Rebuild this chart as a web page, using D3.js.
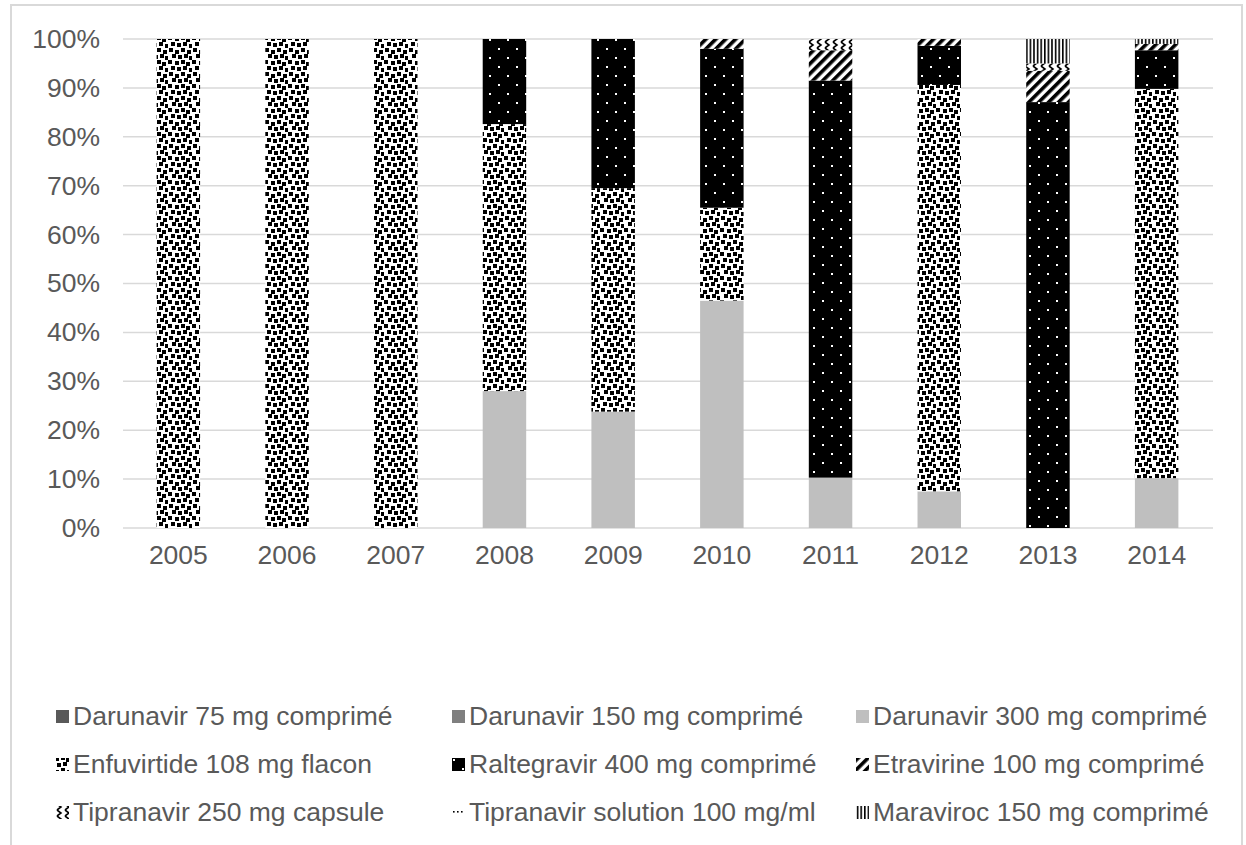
<!DOCTYPE html>
<html>
<head>
<meta charset="utf-8">
<script src="https://cdn.jsdelivr.net/npm/d3@7"></script>
<style>
  html, body { margin: 0; padding: 0; background: #ffffff; }
  svg { display: block; font-family: "Liberation Sans", Arial, sans-serif; }
</style>
</head>
<body>
<svg id="chart" width="1246" height="845"></svg>
<script>
// ---- data ----
const years = ["2005","2006","2007","2008","2009","2010","2011","2012","2013","2014"];
const seriesNames = [
  "Darunavir 75 mg comprimé",
  "Darunavir 150 mg comprimé",
  "Darunavir 300 mg comprimé",
  "Enfuvirtide 108 mg flacon",
  "Raltegravir 400 mg comprimé",
  "Etravirine 100 mg comprimé",
  "Tipranavir 250 mg capsule",
  "Tipranavir solution 100 mg/ml",
  "Maraviroc 150 mg comprimé"
];
const darunavir75  = [0, 0, 0, 0, 0, 0, 0, 0, 0, 0];
const darunavir150 = [0, 0, 0, 0, 0, 0, 0, 0, 0, 0];
const darunavir300 = [0, 0, 0, 28, 23.8, 46.5, 10.3, 7.5, 0, 10.2];
const enfuvirtide  = [100, 100, 100, 54.6, 45.7, 19, 0, 83.1, 0, 79.6];
const raltegravir  = [0, 0, 0, 17.4, 30.5, 32.5, 81.2, 8, 87.1, 7.9];
const etravirine   = [0, 0, 0, 0, 0, 2, 6.2, 1.4, 6.4, 1.3];
const tipranavir250 = [0, 0, 0, 0, 0, 0, 2.3, 0, 1.5, 0];
const tipranavirSol = [0, 0, 0, 0, 0, 0, 0, 0, 0, 0];
const maraviroc    = [0, 0, 0, 0, 0, 0, 0, 0, 5, 1];
const yTicks = [0, 10, 20, 30, 40, 50, 60, 70, 80, 90, 100];

const seriesValues = [darunavir75, darunavir150, darunavir300, enfuvirtide, raltegravir,
                      etravirine, tipranavir250, tipranavirSol, maraviroc];

// table for d3.stack
const table = years.map((y, i) => {
  const row = { year: y };
  seriesNames.forEach((s, k) => { row[s] = seriesValues[k][i]; });
  return row;
});

// ---- layout ----
const svg = d3.select("#chart");
const plot = { left: 123, right: 1213, top: 39, bottom: 528 };
const FONT = "26.5px";

// frame
svg.append("rect").attr("x", 11).attr("y", 5).attr("width", 1231).attr("height", 900)
  .attr("fill", "#ffffff").attr("stroke", "#d9d9d9").attr("stroke-width", 2);

// ---- patterns ----
const defs = svg.append("defs");

// Enfuvirtide: large confetti
const pConf = defs.append("pattern").attr("id", "p-enfu").attr("patternUnits", "userSpaceOnUse")
  .attr("width", 24).attr("height", 24);
pConf.append("rect").attr("width", 24).attr("height", 24).attr("fill", "#fff");
[[1,0],[7,2],[13,0],[19,2],[4,6],[10,7],[16,6],[21,8],[0,12],[7,13],[13,12],[18,14],
 [3,18],[9,19],[15,18],[21,20]].forEach(([x,y]) =>
  pConf.append("rect").attr("x", x).attr("y", y).attr("width", 4).attr("height", 4).attr("fill", "#000"));

// Raltegravir: black with white dots
const pRal = defs.append("pattern").attr("id", "p-ral").attr("patternUnits", "userSpaceOnUse")
  .attr("width", 18).attr("height", 18);
pRal.append("rect").attr("width", 18).attr("height", 18).attr("fill", "#000");
[[3,3],[12,12]].forEach(([x,y]) =>
  pRal.append("rect").attr("x", x).attr("y", y).attr("width", 2).attr("height", 2).attr("fill", "#fff"));

// Etravirine: wide upward diagonal
const pEtr = defs.append("pattern").attr("id", "p-etr").attr("patternUnits", "userSpaceOnUse")
  .attr("width", 7).attr("height", 7).attr("patternTransform", "rotate(45)");
pEtr.append("rect").attr("width", 7).attr("height", 7).attr("fill", "#fff");
pEtr.append("rect").attr("width", 3.6).attr("height", 7).attr("fill", "#000");

// Tipranavir 250: chevrons
const pTip = defs.append("pattern").attr("id", "p-tip").attr("patternUnits", "userSpaceOnUse")
  .attr("width", 8).attr("height", 6);
pTip.append("rect").attr("width", 8).attr("height", 6).attr("fill", "#fff");
pTip.append("path").attr("d", "M1,0 L5,3 L1,6").attr("fill", "none").attr("stroke", "#000").attr("stroke-width", 1.6);

// Tipranavir solution: sparse dots
const pSol = defs.append("pattern").attr("id", "p-sol").attr("patternUnits", "userSpaceOnUse")
  .attr("width", 8).attr("height", 8);
pSol.append("rect").attr("width", 8).attr("height", 8).attr("fill", "#fff");
pSol.append("rect").attr("x", 1).attr("y", 3).attr("width", 1.6).attr("height", 1.6).attr("fill", "#000");
pSol.append("rect").attr("x", 5).attr("y", 3).attr("width", 1.6).attr("height", 1.6).attr("fill", "#000");

// Maraviroc: narrow vertical
const pMar = defs.append("pattern").attr("id", "p-mar").attr("patternUnits", "userSpaceOnUse")
  .attr("width", 3.6).attr("height", 4);
pMar.append("rect").attr("width", 3.6).attr("height", 4).attr("fill", "#fff");
pMar.append("rect").attr("width", 1.6).attr("height", 4).attr("fill", "#000");

const fills = {
  "Darunavir 75 mg comprimé": "#595959",
  "Darunavir 150 mg comprimé": "#7f7f7f",
  "Darunavir 300 mg comprimé": "#bfbfbf",
  "Enfuvirtide 108 mg flacon": "url(#p-enfu)",
  "Raltegravir 400 mg comprimé": "url(#p-ral)",
  "Etravirine 100 mg comprimé": "url(#p-etr)",
  "Tipranavir 250 mg capsule": "url(#p-tip)",
  "Tipranavir solution 100 mg/ml": "url(#p-sol)",
  "Maraviroc 150 mg comprimé": "url(#p-mar)"
};

// ---- scales ----
const x = d3.scaleBand().domain(years).range([plot.left + 1, plot.right - 2]).paddingInner(0.6).paddingOuter(0.3);
const y = d3.scaleLinear().domain([0, 100]).range([plot.bottom, plot.top]);

// gridlines
svg.append("g").selectAll("line").data(yTicks).join("line")
  .attr("x1", plot.left).attr("x2", plot.right)
  .attr("y1", d => y(d)).attr("y2", d => y(d))
  .attr("stroke", "#d9d9d9").attr("stroke-width", 1.5);

// y axis labels
const yAxis = d3.axisLeft(y).tickValues(yTicks).tickFormat(d => d + "%").tickSize(0).tickPadding(0);
const gy = svg.append("g").attr("transform", `translate(${plot.left - 23},0)`).call(yAxis);
gy.select(".domain").remove();
gy.selectAll("text").attr("fill", "#595959").style("font-size", FONT).attr("font-family", "Liberation Sans, Arial, sans-serif");

// x axis labels
const xAxis = d3.axisBottom(x).tickSize(0).tickPadding(0);
const gx = svg.append("g").attr("transform", `translate(0,${plot.bottom + 17})`).call(xAxis);
gx.select(".domain").remove();
gx.selectAll("text").attr("fill", "#595959").style("font-size", FONT).attr("font-family", "Liberation Sans, Arial, sans-serif");

// stacked bars
const stack = d3.stack().keys(seriesNames);
const stacked = stack(table);
svg.append("g").selectAll("g").data(stacked).join("g")
  .attr("fill", d => fills[d.key])
  .selectAll("rect").data(d => d.filter(p => p[1] - p[0] > 0)).join("rect")
  .attr("x", d => x(d.data.year))
  .attr("width", x.bandwidth())
  .attr("y", d => y(d[1]))
  .attr("height", d => y(d[0]) - y(d[1]));

// legend
const legCols = [56, 452, 856];
const legRows = [716, 764, 812];
const leg = svg.append("g");
seriesNames.forEach((s, i) => {
  const cx = legCols[i % 3], cy = legRows[Math.floor(i / 3)];
  leg.append("rect").attr("x", cx).attr("y", cy - 6).attr("width", 13).attr("height", 13)
    .attr("fill", fills[s]);
  leg.append("text").attr("x", cx + 17).attr("y", cy).attr("dy", "0.35em")
    .attr("fill", "#595959").style("font-size", FONT).text(s);
});
</script>
</body>
</html>
